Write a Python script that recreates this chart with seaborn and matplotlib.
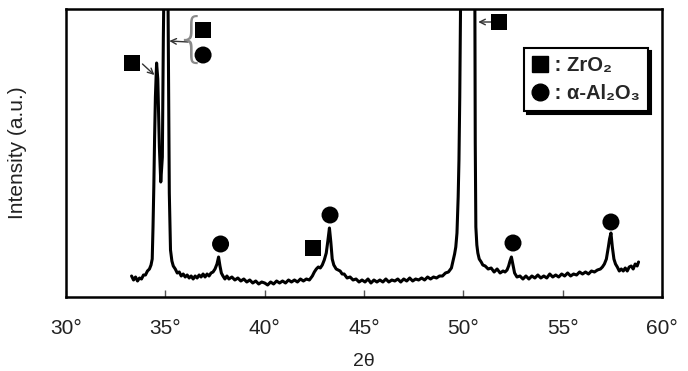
import matplotlib
matplotlib.use("Agg")
import matplotlib.pyplot as plt
from matplotlib.lines import Line2D
import seaborn as sns
import pandas as pd

# ---- data (2theta in degrees, intensity in arbitrary units) ----
two_theta = [33.30, 33.40, 33.50, 33.60, 33.70, 33.80, 33.90, 34.00, 34.10, 34.20,
             34.28, 34.34, 34.38, 34.42, 34.46, 34.50, 34.56, 34.62, 34.70, 34.77,
             34.85, 34.90, 34.95, 35.12, 35.17, 35.20, 35.26, 35.33, 35.40, 35.50,
             35.60, 35.70, 35.80, 35.90, 36.00, 36.10, 36.20, 36.30, 36.40, 36.50,
             36.60, 36.70, 36.80, 36.90, 37.00, 37.10, 37.20, 37.30, 37.40, 37.50,
             37.60, 37.68, 37.75, 37.82, 37.90, 38.00, 38.10, 38.20, 38.35, 38.50,
             38.65, 38.80, 38.95, 39.10, 39.25, 39.40, 39.55, 39.70, 39.85, 40.00,
             40.15, 40.30, 40.45, 40.60, 40.75, 40.90, 41.05, 41.20, 41.35, 41.50,
             41.65, 41.80, 41.95, 42.10, 42.25, 42.40, 42.50, 42.60, 42.70, 42.80,
             42.90, 43.00, 43.10, 43.18, 43.26, 43.33, 43.40, 43.48, 43.60, 43.70,
             43.80, 43.90, 44.00, 44.15, 44.30, 44.45, 44.60, 44.75, 44.90, 45.05,
             45.20, 45.35, 45.50, 45.65, 45.80, 45.95, 46.10, 46.25, 46.40, 46.55,
             46.70, 46.85, 47.00, 47.15, 47.30, 47.45, 47.60, 47.75, 47.90, 48.05,
             48.20, 48.35, 48.50, 48.65, 48.80, 48.95, 49.10, 49.25, 49.40, 49.48,
             49.56, 49.62, 49.68, 49.74, 49.78, 49.82, 49.86, 49.90, 50.55, 50.58,
             50.60, 50.63, 50.68, 50.73, 50.80, 50.90, 50.98, 51.10, 51.25, 51.40,
             51.55, 51.70, 51.85, 52.00, 52.10, 52.20, 52.28, 52.35, 52.42, 52.50,
             52.58, 52.70, 52.85, 53.00, 53.15, 53.30, 53.45, 53.60, 53.75, 53.90,
             54.05, 54.20, 54.35, 54.50, 54.65, 54.80, 54.95, 55.10, 55.25, 55.40,
             55.55, 55.70, 55.85, 56.00, 56.15, 56.30, 56.45, 56.60, 56.75, 56.90,
             57.00, 57.10, 57.20, 57.30, 57.36, 57.43, 57.50, 57.58, 57.66, 57.75,
             57.85, 57.95, 58.05, 58.15, 58.25, 58.35, 58.45, 58.55, 58.65, 58.75,
             58.82]
intensity = [21, 17, 20, 16, 19, 18, 22, 22, 26, 28,
             32, 38, 70, 110, 160, 200, 234, 218, 150, 115,
             140, 260, 340, 340, 200, 104, 47, 36, 31, 28,
             24, 25, 21, 23, 20, 22, 19, 21, 18, 21,
             19, 22, 20, 23, 20, 23, 21, 24, 25, 28,
             33, 40, 31, 24, 21, 18, 21, 18, 20, 17,
             19, 16, 18, 15, 17, 14, 16, 13, 15, 14,
             12, 15, 13, 16, 14, 16, 14, 17, 15, 17,
             15, 18, 16, 18, 17, 21, 25, 28, 30, 29,
             32, 37, 44, 56, 69, 55, 38, 32, 28, 27,
             26, 23, 23, 19, 20, 17, 18, 15, 17, 15,
             18, 14, 17, 15, 17, 15, 18, 15, 17, 16,
             18, 15, 18, 16, 19, 16, 18, 17, 19, 17,
             20, 18, 20, 19, 21, 21, 24, 25, 29, 36,
             43, 50, 64, 100, 137, 200, 290, 400, 400, 300,
             154, 70, 52, 44, 38, 35, 32, 31, 28, 29,
             25, 28, 24, 26, 25, 27, 31, 36, 40, 32,
             24, 20, 21, 18, 21, 18, 21, 19, 22, 19,
             21, 19, 23, 20, 22, 20, 23, 21, 24, 21,
             23, 22, 25, 23, 25, 23, 26, 25, 27, 28,
             30, 33, 38, 50, 58, 64, 50, 38, 33, 30,
             26, 28, 26, 29, 26, 30, 31, 28, 33, 31,
             35]

# marker positions (2theta, intensity)
zro2_x = [33.32, 36.90, 51.79, 42.43]
zro2_y = [234, 267, 275, 49]
al2o3_x = [36.90, 37.78, 43.29, 52.50, 57.43]
al2o3_y = [242, 53, 82, 54, 75]

x_ticks = [30, 35, 40, 45, 50, 55, 60]
x_tick_labels = ["30°", "35°", "40°", "45°", "50°", "55°", "60°"]

df = pd.DataFrame({"two_theta": two_theta, "intensity": intensity})

sns.set_style("white")
plt.rcParams["font.family"] = ["Liberation Sans", "DejaVu Sans"]

fig = plt.figure(figsize=(6.88, 3.71), dpi=100)
ax = fig.add_axes([66 / 688, 1 - 297 / 371, 596 / 688, 288 / 371])

sns.lineplot(data=df, x="two_theta", y="intensity", ax=ax, sort=False,
             estimator=None, color="black", linewidth=2.2)
sns.scatterplot(x=zro2_x, y=zro2_y, ax=ax, marker="s", s=125,
                color="black", edgecolor="none", zorder=5)
sns.scatterplot(x=al2o3_x, y=al2o3_y, ax=ax, marker="o", s=150,
                color="black", edgecolor="none", zorder=5)

ax.set_xlim(30, 60)
ax.set_ylim(0, 288)

# arrows
ax.annotate("", xy=(34.45, 222), xytext=(33.85, 233),
            arrowprops=dict(arrowstyle="->", color="#333333", lw=1.0,
                            shrinkA=0, shrinkB=0))
ax.annotate("", xy=(35.20, 256), xytext=(36.15, 255),
            arrowprops=dict(arrowstyle="->", color="#333333", lw=1.0,
                            shrinkA=0, shrinkB=0))
ax.annotate("", xy=(50.75, 275), xytext=(51.40, 275),
            arrowprops=dict(arrowstyle="->", color="#333333", lw=1.0,
                            shrinkA=0, shrinkB=0))
# brace
ax.text(36.30, 256, "{", fontsize=38, color="#8a8a8a", ha="center",
        va="center", family="DejaVu Sans", fontweight=200)

# axes styling
for sp in ax.spines.values():
    sp.set_visible(True)
    sp.set_color("black")
    sp.set_linewidth(1.8)

ax.set_xticks(x_ticks)
ax.set_xticklabels(x_tick_labels)
ax.tick_params(axis="x", direction="in", length=5, width=1.0, color="#555555",
               bottom=True, top=False, labelsize=15, labelcolor="#222222", pad=16)
ax.set_yticks([])
ax.set_xlabel("")
ax.set_ylabel("Intensity (a.u.)", fontsize=15, color="#222222", labelpad=28)
fig.text(364 / 688, 1 / 371, "2θ", fontsize=14, color="#222222",
         ha="center", va="bottom")

# legend
handles = [Line2D([], [], marker="s", color="black", linestyle="none", markersize=11),
           Line2D([], [], marker="o", color="black", linestyle="none", markersize=12)]
labels = [" : ZrO₂", " : α-Al₂O₃"]
leg = ax.legend(handles, labels, loc="upper right",
                bbox_to_anchor=((648 - 66) / 596, (297 - 48) / 288),
                borderaxespad=0, frameon=True, fancybox=False,
                shadow={"color": "black", "alpha": 1.0},
                handlelength=0.8, handletextpad=0.05, borderpad=0.4,
                labelspacing=0.45, prop={"size": 14.5, "weight": "bold"})
leg.get_frame().set_edgecolor("black")
leg.get_frame().set_linewidth(1.5)
leg.get_frame().set_facecolor("white")

fig.savefig("out.png", dpi=100)
